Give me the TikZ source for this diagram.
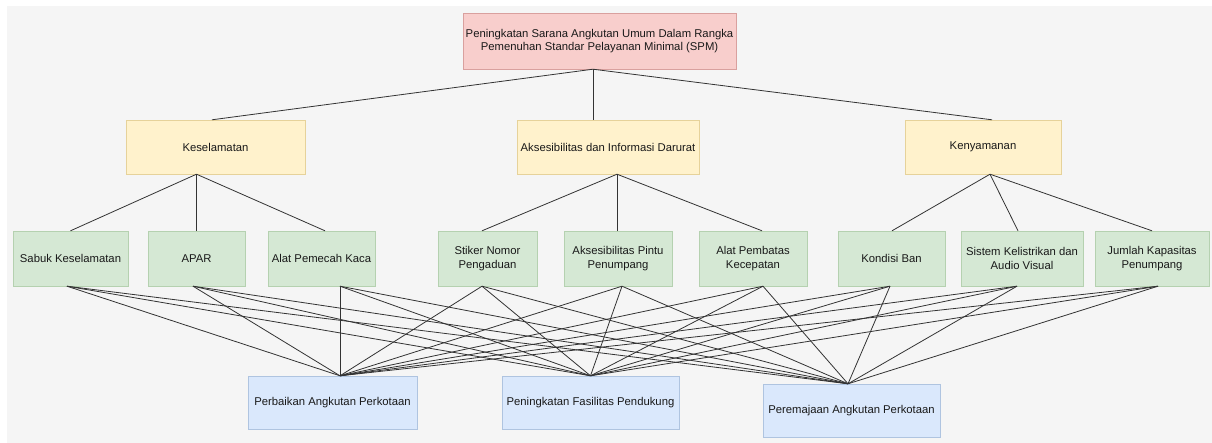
\documentclass[tikz,border=0pt]{standalone}
\usepackage{fontspec}
\setmainfont{Liberation Sans}
\usepackage{xcolor}
\usetikzlibrary{positioning}
\definecolor{canvas}{HTML}{F5F5F5}
\definecolor{goalbg}{HTML}{F8CECC}
\definecolor{goalrim}{HTML}{D9A09E}
\definecolor{aspectbg}{HTML}{FFF2CC}
\definecolor{aspectrim}{HTML}{E6D29A}
\definecolor{itembg}{HTML}{D5E8D4}
\definecolor{itemrim}{HTML}{B5D1B0}
\definecolor{progbg}{HTML}{DAE8FC}
\definecolor{progrim}{HTML}{AFC4E0}
\definecolor{wire}{HTML}{333333}
\tikzset{
    box/.style={rectangle, align=center, inner sep=2pt, text=black!90, font=\fontsize{11.3}{13.5}\selectfont},
    goal/.style={box, draw=goalrim, fill=goalbg, minimum width=273pt, minimum height=56pt},
    aspect/.style={box, draw=aspectrim, fill=aspectbg, minimum height=54pt},
    item/.style={box, draw=itemrim, fill=itembg, minimum height=55pt},
    program/.style={box, draw=progrim, fill=progbg, minimum height=53pt},
    link/.style={draw=wire, line width=0.8pt}
}

\begin{document}
\begin{tikzpicture}[x=1pt, y=-1pt]
    \fill [canvas] (7,6) rectangle (1212,443);
    \useasboundingbox (0,0) rectangle (1212,443);

    % top goal
    \node [goal] (goal) at (599.5,41) {Peningkatan Sarana Angkutan Umum Dalam Rangka\\Pemenuhan Standar Pelayanan Minimal (SPM)};

    % aspects
    \node [aspect, minimum width=179pt] (kes) at (215.5,147) {Keselamatan};
    \node [aspect, minimum width=182pt] (aks) at (608,147) {Aksesibilitas dan Informasi Darurat};
    \node [aspect, minimum width=156pt] (ken) at (983,147) {Kenyamanan};

    % items
    \node [item, minimum width=115pt] (sabuk) at (70.5,258.5) {Sabuk Keselamatan};
    \node [item, minimum width=97pt] (apar) at (196.5,258.5) {APAR};
    \node [item, minimum width=107pt] (pecah) at (321.5,258.5) {Alat Pemecah Kaca};
    \node [item, minimum width=99pt] (stiker) at (487.5,258.5) {Stiker Nomor\\Pengaduan};
    \node [item, minimum width=108pt] (pintu) at (618,258.5) {Aksesibilitas Pintu\\Penumpang};
    \node [item, minimum width=108pt] (pembatas) at (753,258.5) {Alat Pembatas\\Kecepatan};
    \node [item, minimum width=107pt] (ban) at (891.5,258.5) {Kondisi Ban};
    \node [item, minimum width=122pt] (sistem) at (1022,258.5) {Sistem Kelistrikan dan\\Audio Visual};
    \node [item, minimum width=114pt] (jumlah) at (1152,258.5) {Jumlah Kapasitas\\Penumpang};

    % programs
    \node [program, minimum width=169pt] (perbaikan) at (332.5,402.5) {Perbaikan Angkutan Perkotaan};
    \node [program, minimum width=177pt] (fasilitas) at (590.5,402.5) {Peningkatan Fasilitas Pendukung};
    \node [program, minimum width=177pt] (peremajaan) at (851.5,410.5) {Peremajaan Angkutan Perkotaan};

    % goal -> aspects
    \coordinate (goal-o) at ([xshift=-6.5pt]goal.south);
    \draw [link] (goal-o) -- ([xshift=-3.5pt]kes.north);
    \draw [link] (goal-o) -- (goal-o |- aks.north);
    \draw [link] (goal-o) -- ([xshift=9pt]ken.north);

    % aspects -> items
    \coordinate (kes-o) at (apar.north |- kes.south);
    \draw [link] (kes-o) -- (sabuk.north);
    \draw [link] (kes-o) -- (apar.north);
    \draw [link] (kes-o) -- ([xshift=3.5pt]pecah.north);
    \coordinate (aks-o) at ([xshift=9pt]aks.south);
    \draw [link] (aks-o) -- ([xshift=-5.5pt]stiker.north);
    \draw [link] (aks-o) -- (aks-o |- pintu.north);
    \draw [link] (aks-o) -- ([xshift=9pt]pembatas.north);
    \coordinate (ken-o) at ([xshift=7pt]ken.south);
    \draw [link] (ken-o) -- ([xshift=0.5pt]ban.north);
    \draw [link] (ken-o) -- ([xshift=-4pt]sistem.north);
    \draw [link] (ken-o) -- (jumlah.north);

    % items -> programs
    \foreach \n/\dx in {sabuk/-3.5, apar/-3.5, pecah/18.5, stiker/-5.5, pintu/4, pembatas/10, ban/-1.5, sistem/-5, jumlah/6}
        \coordinate (\n-o) at ([xshift=\dx pt]\n.south);
    \foreach \p/\dx in {perbaikan/7.5, fasilitas/0, peremajaan/-3.5}
        \coordinate (\p-i) at ([xshift=\dx pt]\p.north);
    \foreach \n in {sabuk, apar, pecah, stiker, pintu, pembatas, ban, sistem, jumlah}
        \foreach \p in {perbaikan, fasilitas, peremajaan}
            \draw [link] (\n-o) -- (\p-i);
\end{tikzpicture}
\end{document}
